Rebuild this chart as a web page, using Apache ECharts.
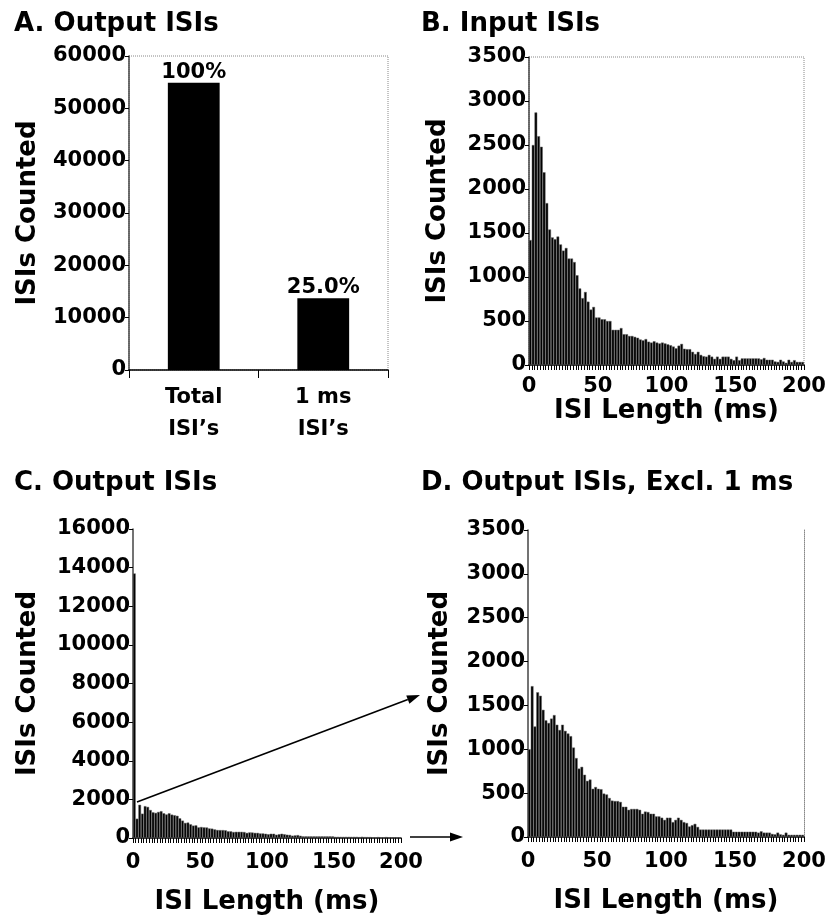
<!DOCTYPE html>
<html>
<head>
<meta charset="utf-8">
<script src="https://cdn.jsdelivr.net/npm/echarts@6/dist/echarts.min.js"></script>
<style>
  html, body { margin: 0; padding: 0; background: #fff; }
  #chart { width: 829px; height: 923px; }
</style>
</head>
<body>
<div id="chart"></div>
<script>
// panel A: totals
const totalCategories = ["Total\nISI\u2019s", "1 ms\nISI\u2019s"];
const totalCounts = [54900, 13700];
const totalPercent = ["100%", "25.0%"];

// histograms use 2 ms bins, 0-200 ms
const binWidth = 2;
const inputCounts = [
  1420, 2500, 2870, 2600, 2480, 2190, 1840, 1540, 1450, 1430,
  1460, 1370, 1300, 1330, 1210, 1210, 1170, 1020, 870, 760,
  830, 720, 630, 660, 540, 540, 520, 520, 500, 500,
  400, 400, 400, 420, 350, 350, 330, 330, 320, 310,
  290, 280, 295, 265, 255, 270, 255, 245, 255, 245,
  235, 225, 210, 190, 220, 240, 185, 180, 180, 150,
  125, 150, 115, 100, 95, 115, 95, 70, 95, 70,
  95, 95, 95, 70, 55, 95, 55, 75, 75, 75,
  75, 75, 75, 75, 65, 80, 60, 60, 60, 40,
  35, 60, 40, 25, 60, 35, 55, 35, 35, 35
];
const oneMsCount = 13700;
const outputExcl1ms = [
  1000, 1720, 1260, 1650, 1610, 1450, 1330, 1300, 1350, 1390,
  1280, 1220, 1280, 1210, 1180, 1150, 1020, 900, 780, 800,
  710, 640, 655, 550, 570, 550, 545, 495, 485, 445,
  415, 410, 410, 400, 345, 345, 310, 320, 320, 320,
  310, 265, 290, 285, 265, 265, 235, 235, 220, 195,
  220, 220, 170, 195, 220, 195, 170, 160, 120, 135,
  150, 115, 85, 85, 85, 85, 85, 85, 85, 85,
  85, 85, 85, 85, 60, 60, 60, 60, 60, 60,
  60, 60, 60, 50, 65, 50, 50, 50, 35, 30,
  50, 30, 25, 50, 25, 25, 25, 25, 25, 25
];
// output histogram: the 1 ms peak followed by the remaining bins
const outputCounts = [oneMsCount].concat(outputExcl1ms.slice(0, 99));

const xTicks = { min: 0, max: 200, interval: 50 };

const font = "DejaVu Sans";
const tickFont = { fontFamily: font, fontWeight: "bold", fontSize: 21, color: "#000" };
const nameFont = { fontFamily: font, fontWeight: "bold", fontSize: 26, color: "#000" };
const plain = (v) => String(v);

function toBins(arr) {
  return arr.map((v, i) => [i * binWidth + binWidth / 2, v]);
}

function histXAxis(gridIndex, labelMargin, nameGap) {
  return {
    type: "value",
    gridIndex: gridIndex,
    min: xTicks.min,
    max: xTicks.max,
    interval: xTicks.interval,
    name: "ISI Length (ms)",
    nameLocation: "middle",
    nameGap: nameGap,
    nameTextStyle: nameFont,
    axisLine: { lineStyle: { color: "#000", width: 1.5 } },
    axisTick: { show: true, length: 5, lineStyle: { color: "#000" } },
    minorTick: { show: true, splitNumber: 25, length: 5, lineStyle: { color: "#000" } },
    axisLabel: Object.assign({ margin: labelMargin, formatter: plain }, tickFont),
    splitLine: { show: false },
    minorSplitLine: { show: false },
  };
}

function countYAxis(gridIndex, max, interval, nameGap) {
  return {
    type: "value",
    gridIndex: gridIndex,
    min: 0,
    max: max,
    interval: interval,
    name: "ISIs Counted",
    nameLocation: "middle",
    nameGap: nameGap,
    nameTextStyle: nameFont,
    axisLine: { show: true, lineStyle: { color: "#444", width: 1.5 } },
    axisTick: { show: true, length: 4, lineStyle: { color: "#000" } },
    axisLabel: Object.assign({ margin: 3, formatter: plain }, tickFont),
    splitLine: { show: false },
  };
}

function histSeries(axisIndex, data, width) {
  return {
    type: "bar",
    xAxisIndex: axisIndex,
    yAxisIndex: axisIndex,
    data: toBins(data),
    barWidth: width,
    itemStyle: { color: "#000", borderColor: "#666", borderWidth: 0.5 },
    silent: true,
  };
}

function arrow(x1, y1, x2, y2) {
  const ang = Math.atan2(y2 - y1, x2 - x1);
  const len = 13, half = 4.5;
  const bx = x2 - len * Math.cos(ang), by = y2 - len * Math.sin(ang);
  const px = -Math.sin(ang) * half, py = Math.cos(ang) * half;
  return [
    { type: "line", shape: { x1: x1, y1: y1, x2: bx, y2: by }, style: { stroke: "#000", lineWidth: 1.6 } },
    { type: "polygon", shape: { points: [[x2, y2], [bx + px, by + py], [bx - px, by - py]] }, style: { fill: "#000" } },
  ];
}

const chart = echarts.init(document.getElementById("chart"));
const option = {
  animation: false,
  backgroundColor: "#fff",
  title: [
    { text: "A. Output ISIs", left: 14, top: 11 },
    { text: "B. Input ISIs", left: 421, top: 11 },
    { text: "C. Output ISIs", left: 14, top: 470 },
    { text: "D. Output ISIs, Excl. 1 ms", left: 421, top: 470 },
  ].map((t) => Object.assign(t, { padding: 0, textStyle: nameFont })),
  grid: [
    { left: 129, top: 56, width: 259, height: 314, show: true, borderColor: "#888", borderWidth: 1, borderType: "dotted" },
    { left: 529, top: 57, width: 275, height: 308, show: true, borderColor: "#888", borderWidth: 1, borderType: "dotted" },
    { left: 133, top: 529, width: 268, height: 309 },
    { left: 528, top: 530, width: 276, height: 307 },
  ],
  xAxis: [
    {
      type: "category",
      gridIndex: 0,
      data: totalCategories,
      axisLine: { lineStyle: { color: "#000", width: 1.5 } },
      axisTick: { show: true, alignWithLabel: false, length: 8, lineStyle: { color: "#000" } },
      axisLabel: Object.assign({ margin: 12, lineHeight: 32 }, tickFont),
    },
    histXAxis(1, 11, 32),
    histXAxis(2, 14, 51),
    histXAxis(3, 14, 51),
  ],
  yAxis: [
    countYAxis(0, 60000, 10000, 88),
    countYAxis(1, 3500, 500, 78),
    countYAxis(2, 16000, 2000, 92),
    countYAxis(3, 3500, 500, 75),
    {
      type: "value",
      gridIndex: 3,
      position: "right",
      min: 0,
      max: 1,
      axisLine: { show: true, lineStyle: { color: "#888", width: 1, type: "dotted" } },
      axisTick: { show: false },
      axisLabel: { show: false },
      splitLine: { show: false },
    },
  ],
  series: [
    {
      type: "bar",
      xAxisIndex: 0,
      yAxisIndex: 0,
      data: totalCounts,
      barWidth: "40%",
      itemStyle: { color: "#000" },
      label: Object.assign(
        { show: true, position: "top", distance: 0, formatter: (p) => totalPercent[p.dataIndex] },
        tickFont
      ),
    },
    histSeries(1, inputCounts, 2.75),
    histSeries(2, outputCounts, 2.68),
    histSeries(3, outputExcl1ms, 2.75),
  ],
  graphic: arrow(137, 802, 420, 695).concat(arrow(410, 837, 463, 837)),
};
chart.setOption(option);
</script>
</body>
</html>
